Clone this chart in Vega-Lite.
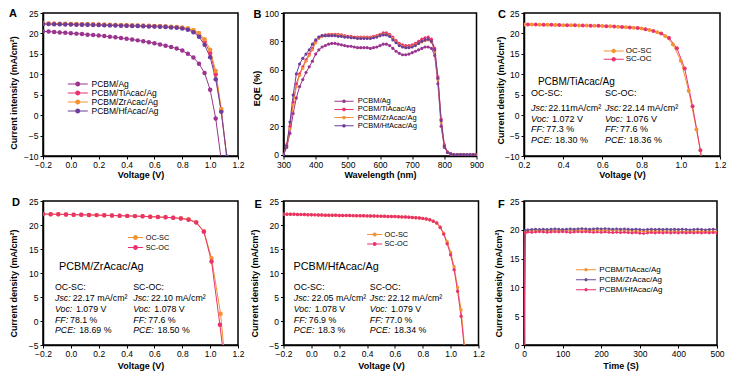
{
"$schema":"https://vega.github.io/schema/vega-lite/v6.json",
"background":"white",
"padding":{"left":8,"top":6,"right":0,"bottom":0},
"config":{
"font":"Liberation Sans",
"view":{"stroke":"black","strokeWidth":1.5},
"axis":{"labelFont":"Liberation Sans","labelFontSize":8.5,"labelColor":"black","labelFlush":false,"labelOverlap":false,"titleFont":"Liberation Sans","titleFontSize":9,"titleFontWeight":"bold","titleColor":"black","tickColor":"black","tickSize":3,"tickWidth":1,"domainColor":"black","domainWidth":1.5,"grid":false},
"axisX":{"labelPadding":1.5,"titlePadding":1},
"axisY":{"labelPadding":2},
"legend":{"labelFont":"Liberation Sans","labelColor":"black","padding":0,"rowPadding":0,"symbolStrokeWidth":0},
"title":{"font":"Liberation Sans","fontWeight":"bold","color":"black","fontSize":11,"anchor":"start","frame":"group","offset":0,"baseline":"middle"}
},
"datasets":{
"pa":[
{"s":"PCBM/Ag","v":-0.2,"j":20.5},{"s":"PCBM/Ag","v":-0.16,"j":20.45},{"s":"PCBM/Ag","v":-0.12,"j":20.35},{"s":"PCBM/Ag","v":-0.08,"j":20.25},{"s":"PCBM/Ag","v":-0.04,"j":20.15},{"s":"PCBM/Ag","v":0,"j":20.05},{"s":"PCBM/Ag","v":0.04,"j":19.95},{"s":"PCBM/Ag","v":0.08,"j":19.85},{"s":"PCBM/Ag","v":0.12,"j":19.7},{"s":"PCBM/Ag","v":0.16,"j":19.6},{"s":"PCBM/Ag","v":0.2,"j":19.5},{"s":"PCBM/Ag","v":0.24,"j":19.35},{"s":"PCBM/Ag","v":0.28,"j":19.2},{"s":"PCBM/Ag","v":0.32,"j":19.05},{"s":"PCBM/Ag","v":0.36,"j":18.9},{"s":"PCBM/Ag","v":0.4,"j":18.7},{"s":"PCBM/Ag","v":0.44,"j":18.5},{"s":"PCBM/Ag","v":0.48,"j":18.3},{"s":"PCBM/Ag","v":0.52,"j":18.1},{"s":"PCBM/Ag","v":0.56,"j":17.85},{"s":"PCBM/Ag","v":0.6,"j":17.6},{"s":"PCBM/Ag","v":0.64,"j":17.3},{"s":"PCBM/Ag","v":0.68,"j":17.0},{"s":"PCBM/Ag","v":0.72,"j":16.7},{"s":"PCBM/Ag","v":0.76,"j":16.3},{"s":"PCBM/Ag","v":0.8,"j":15.8},{"s":"PCBM/Ag","v":0.84,"j":15.0},{"s":"PCBM/Ag","v":0.88,"j":14.1},{"s":"PCBM/Ag","v":0.92,"j":12.6},{"s":"PCBM/Ag","v":0.96,"j":10.3},{"s":"PCBM/Ag","v":1.0,"j":6.2},{"s":"PCBM/Ag","v":1.04,"j":-0.8},{"s":"PCBM/Ag","v":1.08,"j":-11},
{"s":"PCBM/TiAcac/Ag","v":-0.2,"j":22.4},{"s":"PCBM/TiAcac/Ag","v":-0.16,"j":22.38},{"s":"PCBM/TiAcac/Ag","v":-0.12,"j":22.35},{"s":"PCBM/TiAcac/Ag","v":-0.08,"j":22.33},{"s":"PCBM/TiAcac/Ag","v":-0.04,"j":22.3},{"s":"PCBM/TiAcac/Ag","v":0,"j":22.28},{"s":"PCBM/TiAcac/Ag","v":0.04,"j":22.25},{"s":"PCBM/TiAcac/Ag","v":0.08,"j":22.22},{"s":"PCBM/TiAcac/Ag","v":0.12,"j":22.2},{"s":"PCBM/TiAcac/Ag","v":0.16,"j":22.17},{"s":"PCBM/TiAcac/Ag","v":0.2,"j":22.14},{"s":"PCBM/TiAcac/Ag","v":0.24,"j":22.1},{"s":"PCBM/TiAcac/Ag","v":0.28,"j":22.07},{"s":"PCBM/TiAcac/Ag","v":0.32,"j":22.04},{"s":"PCBM/TiAcac/Ag","v":0.36,"j":22.0},{"s":"PCBM/TiAcac/Ag","v":0.4,"j":21.97},{"s":"PCBM/TiAcac/Ag","v":0.44,"j":21.93},{"s":"PCBM/TiAcac/Ag","v":0.48,"j":21.9},{"s":"PCBM/TiAcac/Ag","v":0.52,"j":21.86},{"s":"PCBM/TiAcac/Ag","v":0.56,"j":21.82},{"s":"PCBM/TiAcac/Ag","v":0.6,"j":21.78},{"s":"PCBM/TiAcac/Ag","v":0.64,"j":21.73},{"s":"PCBM/TiAcac/Ag","v":0.68,"j":21.67},{"s":"PCBM/TiAcac/Ag","v":0.72,"j":21.6},{"s":"PCBM/TiAcac/Ag","v":0.76,"j":21.5},{"s":"PCBM/TiAcac/Ag","v":0.8,"j":21.35},{"s":"PCBM/TiAcac/Ag","v":0.84,"j":21.1},{"s":"PCBM/TiAcac/Ag","v":0.88,"j":20.6},{"s":"PCBM/TiAcac/Ag","v":0.92,"j":19.7},{"s":"PCBM/TiAcac/Ag","v":0.96,"j":18.0},{"s":"PCBM/TiAcac/Ag","v":1.0,"j":15.2},{"s":"PCBM/TiAcac/Ag","v":1.04,"j":10.0},{"s":"PCBM/TiAcac/Ag","v":1.08,"j":1.0},{"s":"PCBM/TiAcac/Ag","v":1.12,"j":-10.5},
{"s":"PCBM/ZrAcac/Ag","v":-0.2,"j":22.45},{"s":"PCBM/ZrAcac/Ag","v":-0.16,"j":22.43},{"s":"PCBM/ZrAcac/Ag","v":-0.12,"j":22.4},{"s":"PCBM/ZrAcac/Ag","v":-0.08,"j":22.38},{"s":"PCBM/ZrAcac/Ag","v":-0.04,"j":22.35},{"s":"PCBM/ZrAcac/Ag","v":0,"j":22.33},{"s":"PCBM/ZrAcac/Ag","v":0.04,"j":22.3},{"s":"PCBM/ZrAcac/Ag","v":0.08,"j":22.27},{"s":"PCBM/ZrAcac/Ag","v":0.12,"j":22.25},{"s":"PCBM/ZrAcac/Ag","v":0.16,"j":22.22},{"s":"PCBM/ZrAcac/Ag","v":0.2,"j":22.19},{"s":"PCBM/ZrAcac/Ag","v":0.24,"j":22.15},{"s":"PCBM/ZrAcac/Ag","v":0.28,"j":22.12},{"s":"PCBM/ZrAcac/Ag","v":0.32,"j":22.09},{"s":"PCBM/ZrAcac/Ag","v":0.36,"j":22.05},{"s":"PCBM/ZrAcac/Ag","v":0.4,"j":22.02},{"s":"PCBM/ZrAcac/Ag","v":0.44,"j":21.98},{"s":"PCBM/ZrAcac/Ag","v":0.48,"j":21.95},{"s":"PCBM/ZrAcac/Ag","v":0.52,"j":21.91},{"s":"PCBM/ZrAcac/Ag","v":0.56,"j":21.87},{"s":"PCBM/ZrAcac/Ag","v":0.6,"j":21.83},{"s":"PCBM/ZrAcac/Ag","v":0.64,"j":21.78},{"s":"PCBM/ZrAcac/Ag","v":0.68,"j":21.72},{"s":"PCBM/ZrAcac/Ag","v":0.72,"j":21.65},{"s":"PCBM/ZrAcac/Ag","v":0.76,"j":21.57},{"s":"PCBM/ZrAcac/Ag","v":0.8,"j":21.45},{"s":"PCBM/ZrAcac/Ag","v":0.84,"j":21.25},{"s":"PCBM/ZrAcac/Ag","v":0.88,"j":20.85},{"s":"PCBM/ZrAcac/Ag","v":0.92,"j":20.1},{"s":"PCBM/ZrAcac/Ag","v":0.96,"j":18.6},{"s":"PCBM/ZrAcac/Ag","v":1.0,"j":16.0},{"s":"PCBM/ZrAcac/Ag","v":1.04,"j":10.8},{"s":"PCBM/ZrAcac/Ag","v":1.08,"j":1.5},{"s":"PCBM/ZrAcac/Ag","v":1.12,"j":-10.8},
{"s":"PCBM/HfAcac/Ag","v":-0.2,"j":22.3},{"s":"PCBM/HfAcac/Ag","v":-0.16,"j":22.28},{"s":"PCBM/HfAcac/Ag","v":-0.12,"j":22.25},{"s":"PCBM/HfAcac/Ag","v":-0.08,"j":22.23},{"s":"PCBM/HfAcac/Ag","v":-0.04,"j":22.2},{"s":"PCBM/HfAcac/Ag","v":0,"j":22.18},{"s":"PCBM/HfAcac/Ag","v":0.04,"j":22.15},{"s":"PCBM/HfAcac/Ag","v":0.08,"j":22.12},{"s":"PCBM/HfAcac/Ag","v":0.12,"j":22.1},{"s":"PCBM/HfAcac/Ag","v":0.16,"j":22.07},{"s":"PCBM/HfAcac/Ag","v":0.2,"j":22.04},{"s":"PCBM/HfAcac/Ag","v":0.24,"j":22.0},{"s":"PCBM/HfAcac/Ag","v":0.28,"j":21.97},{"s":"PCBM/HfAcac/Ag","v":0.32,"j":21.94},{"s":"PCBM/HfAcac/Ag","v":0.36,"j":21.9},{"s":"PCBM/HfAcac/Ag","v":0.4,"j":21.87},{"s":"PCBM/HfAcac/Ag","v":0.44,"j":21.83},{"s":"PCBM/HfAcac/Ag","v":0.48,"j":21.8},{"s":"PCBM/HfAcac/Ag","v":0.52,"j":21.76},{"s":"PCBM/HfAcac/Ag","v":0.56,"j":21.72},{"s":"PCBM/HfAcac/Ag","v":0.6,"j":21.67},{"s":"PCBM/HfAcac/Ag","v":0.64,"j":21.62},{"s":"PCBM/HfAcac/Ag","v":0.68,"j":21.55},{"s":"PCBM/HfAcac/Ag","v":0.72,"j":21.47},{"s":"PCBM/HfAcac/Ag","v":0.76,"j":21.37},{"s":"PCBM/HfAcac/Ag","v":0.8,"j":21.2},{"s":"PCBM/HfAcac/Ag","v":0.84,"j":20.9},{"s":"PCBM/HfAcac/Ag","v":0.88,"j":20.3},{"s":"PCBM/HfAcac/Ag","v":0.92,"j":19.2},{"s":"PCBM/HfAcac/Ag","v":0.96,"j":17.2},{"s":"PCBM/HfAcac/Ag","v":1.0,"j":14.2},{"s":"PCBM/HfAcac/Ag","v":1.04,"j":8.8},{"s":"PCBM/HfAcac/Ag","v":1.08,"j":0.8},{"s":"PCBM/HfAcac/Ag","v":1.12,"j":-10.2}
],
"pb":[
{"s":"PCBM/Ag","v":300,"j":0},{"s":"PCBM/Ag","v":310,"j":5},{"s":"PCBM/Ag","v":320,"j":15},{"s":"PCBM/Ag","v":330,"j":29},{"s":"PCBM/Ag","v":340,"j":40},{"s":"PCBM/Ag","v":350,"j":48},{"s":"PCBM/Ag","v":360,"j":53},{"s":"PCBM/Ag","v":370,"j":58},{"s":"PCBM/Ag","v":380,"j":62},{"s":"PCBM/Ag","v":390,"j":66},{"s":"PCBM/Ag","v":400,"j":71},{"s":"PCBM/Ag","v":410,"j":74},{"s":"PCBM/Ag","v":420,"j":76},{"s":"PCBM/Ag","v":430,"j":77},{"s":"PCBM/Ag","v":440,"j":78},{"s":"PCBM/Ag","v":450,"j":78.5},{"s":"PCBM/Ag","v":460,"j":78.5},{"s":"PCBM/Ag","v":470,"j":78},{"s":"PCBM/Ag","v":480,"j":77.5},{"s":"PCBM/Ag","v":490,"j":77},{"s":"PCBM/Ag","v":500,"j":76.5},{"s":"PCBM/Ag","v":510,"j":76.5},{"s":"PCBM/Ag","v":520,"j":76},{"s":"PCBM/Ag","v":530,"j":75.5},{"s":"PCBM/Ag","v":540,"j":75.5},{"s":"PCBM/Ag","v":550,"j":75.5},{"s":"PCBM/Ag","v":560,"j":75.5},{"s":"PCBM/Ag","v":570,"j":75},{"s":"PCBM/Ag","v":580,"j":75.5},{"s":"PCBM/Ag","v":590,"j":76},{"s":"PCBM/Ag","v":600,"j":77},{"s":"PCBM/Ag","v":610,"j":78},{"s":"PCBM/Ag","v":620,"j":78},{"s":"PCBM/Ag","v":630,"j":77},{"s":"PCBM/Ag","v":640,"j":75},{"s":"PCBM/Ag","v":650,"j":73},{"s":"PCBM/Ag","v":660,"j":71.5},{"s":"PCBM/Ag","v":670,"j":70.5},{"s":"PCBM/Ag","v":680,"j":70.5},{"s":"PCBM/Ag","v":690,"j":71},{"s":"PCBM/Ag","v":700,"j":72},{"s":"PCBM/Ag","v":710,"j":73},{"s":"PCBM/Ag","v":720,"j":74},{"s":"PCBM/Ag","v":730,"j":75},{"s":"PCBM/Ag","v":740,"j":76},{"s":"PCBM/Ag","v":750,"j":76},{"s":"PCBM/Ag","v":760,"j":75},{"s":"PCBM/Ag","v":770,"j":70},{"s":"PCBM/Ag","v":780,"j":50},{"s":"PCBM/Ag","v":790,"j":20},{"s":"PCBM/Ag","v":800,"j":5},{"s":"PCBM/Ag","v":810,"j":1.5},{"s":"PCBM/Ag","v":820,"j":0.5},{"s":"PCBM/Ag","v":830,"j":0},{"s":"PCBM/Ag","v":840,"j":0},{"s":"PCBM/Ag","v":850,"j":0},{"s":"PCBM/Ag","v":860,"j":0},{"s":"PCBM/Ag","v":870,"j":0},{"s":"PCBM/Ag","v":880,"j":0},{"s":"PCBM/Ag","v":890,"j":0},{"s":"PCBM/Ag","v":900,"j":0},
{"s":"PCBM/TiAcac/Ag","v":300,"j":0},{"s":"PCBM/TiAcac/Ag","v":310,"j":7},{"s":"PCBM/TiAcac/Ag","v":320,"j":20},{"s":"PCBM/TiAcac/Ag","v":330,"j":37},{"s":"PCBM/TiAcac/Ag","v":340,"j":50},{"s":"PCBM/TiAcac/Ag","v":350,"j":57},{"s":"PCBM/TiAcac/Ag","v":360,"j":62},{"s":"PCBM/TiAcac/Ag","v":370,"j":67},{"s":"PCBM/TiAcac/Ag","v":380,"j":71},{"s":"PCBM/TiAcac/Ag","v":390,"j":75},{"s":"PCBM/TiAcac/Ag","v":400,"j":80},{"s":"PCBM/TiAcac/Ag","v":410,"j":83},{"s":"PCBM/TiAcac/Ag","v":420,"j":84},{"s":"PCBM/TiAcac/Ag","v":430,"j":84.5},{"s":"PCBM/TiAcac/Ag","v":440,"j":85},{"s":"PCBM/TiAcac/Ag","v":450,"j":85},{"s":"PCBM/TiAcac/Ag","v":460,"j":85},{"s":"PCBM/TiAcac/Ag","v":470,"j":85},{"s":"PCBM/TiAcac/Ag","v":480,"j":84.5},{"s":"PCBM/TiAcac/Ag","v":490,"j":84},{"s":"PCBM/TiAcac/Ag","v":500,"j":83.5},{"s":"PCBM/TiAcac/Ag","v":510,"j":83.5},{"s":"PCBM/TiAcac/Ag","v":520,"j":83},{"s":"PCBM/TiAcac/Ag","v":530,"j":83},{"s":"PCBM/TiAcac/Ag","v":540,"j":83},{"s":"PCBM/TiAcac/Ag","v":550,"j":83},{"s":"PCBM/TiAcac/Ag","v":560,"j":83},{"s":"PCBM/TiAcac/Ag","v":570,"j":83},{"s":"PCBM/TiAcac/Ag","v":580,"j":83.5},{"s":"PCBM/TiAcac/Ag","v":590,"j":84},{"s":"PCBM/TiAcac/Ag","v":600,"j":85},{"s":"PCBM/TiAcac/Ag","v":610,"j":86},{"s":"PCBM/TiAcac/Ag","v":620,"j":86},{"s":"PCBM/TiAcac/Ag","v":630,"j":85},{"s":"PCBM/TiAcac/Ag","v":640,"j":83},{"s":"PCBM/TiAcac/Ag","v":650,"j":80.5},{"s":"PCBM/TiAcac/Ag","v":660,"j":78.5},{"s":"PCBM/TiAcac/Ag","v":670,"j":77.5},{"s":"PCBM/TiAcac/Ag","v":680,"j":77},{"s":"PCBM/TiAcac/Ag","v":690,"j":77},{"s":"PCBM/TiAcac/Ag","v":700,"j":77.5},{"s":"PCBM/TiAcac/Ag","v":710,"j":78.5},{"s":"PCBM/TiAcac/Ag","v":720,"j":80},{"s":"PCBM/TiAcac/Ag","v":730,"j":81.5},{"s":"PCBM/TiAcac/Ag","v":740,"j":82.5},{"s":"PCBM/TiAcac/Ag","v":750,"j":83},{"s":"PCBM/TiAcac/Ag","v":760,"j":81.5},{"s":"PCBM/TiAcac/Ag","v":770,"j":75},{"s":"PCBM/TiAcac/Ag","v":780,"j":55},{"s":"PCBM/TiAcac/Ag","v":790,"j":25},{"s":"PCBM/TiAcac/Ag","v":800,"j":7},{"s":"PCBM/TiAcac/Ag","v":810,"j":2},{"s":"PCBM/TiAcac/Ag","v":820,"j":0.5},{"s":"PCBM/TiAcac/Ag","v":830,"j":0},{"s":"PCBM/TiAcac/Ag","v":840,"j":0},{"s":"PCBM/TiAcac/Ag","v":850,"j":0},{"s":"PCBM/TiAcac/Ag","v":860,"j":0},{"s":"PCBM/TiAcac/Ag","v":870,"j":0},{"s":"PCBM/TiAcac/Ag","v":880,"j":0},{"s":"PCBM/TiAcac/Ag","v":890,"j":0},{"s":"PCBM/TiAcac/Ag","v":900,"j":0},
{"s":"PCBM/ZrAcac/Ag","v":300,"j":0},{"s":"PCBM/ZrAcac/Ag","v":310,"j":6},{"s":"PCBM/ZrAcac/Ag","v":320,"j":18},{"s":"PCBM/ZrAcac/Ag","v":330,"j":35},{"s":"PCBM/ZrAcac/Ag","v":340,"j":48},{"s":"PCBM/ZrAcac/Ag","v":350,"j":56},{"s":"PCBM/ZrAcac/Ag","v":360,"j":61},{"s":"PCBM/ZrAcac/Ag","v":370,"j":66},{"s":"PCBM/ZrAcac/Ag","v":380,"j":70},{"s":"PCBM/ZrAcac/Ag","v":390,"j":74},{"s":"PCBM/ZrAcac/Ag","v":400,"j":79},{"s":"PCBM/ZrAcac/Ag","v":410,"j":82},{"s":"PCBM/ZrAcac/Ag","v":420,"j":83.5},{"s":"PCBM/ZrAcac/Ag","v":430,"j":84},{"s":"PCBM/ZrAcac/Ag","v":440,"j":84.5},{"s":"PCBM/ZrAcac/Ag","v":450,"j":84.5},{"s":"PCBM/ZrAcac/Ag","v":460,"j":84.5},{"s":"PCBM/ZrAcac/Ag","v":470,"j":84.5},{"s":"PCBM/ZrAcac/Ag","v":480,"j":84},{"s":"PCBM/ZrAcac/Ag","v":490,"j":83.5},{"s":"PCBM/ZrAcac/Ag","v":500,"j":83},{"s":"PCBM/ZrAcac/Ag","v":510,"j":83},{"s":"PCBM/ZrAcac/Ag","v":520,"j":82.5},{"s":"PCBM/ZrAcac/Ag","v":530,"j":82.5},{"s":"PCBM/ZrAcac/Ag","v":540,"j":82.5},{"s":"PCBM/ZrAcac/Ag","v":550,"j":82.5},{"s":"PCBM/ZrAcac/Ag","v":560,"j":82.5},{"s":"PCBM/ZrAcac/Ag","v":570,"j":82.5},{"s":"PCBM/ZrAcac/Ag","v":580,"j":83},{"s":"PCBM/ZrAcac/Ag","v":590,"j":83.5},{"s":"PCBM/ZrAcac/Ag","v":600,"j":84.5},{"s":"PCBM/ZrAcac/Ag","v":610,"j":85},{"s":"PCBM/ZrAcac/Ag","v":620,"j":85},{"s":"PCBM/ZrAcac/Ag","v":630,"j":84},{"s":"PCBM/ZrAcac/Ag","v":640,"j":82},{"s":"PCBM/ZrAcac/Ag","v":650,"j":79.5},{"s":"PCBM/ZrAcac/Ag","v":660,"j":77.5},{"s":"PCBM/ZrAcac/Ag","v":670,"j":76.5},{"s":"PCBM/ZrAcac/Ag","v":680,"j":76},{"s":"PCBM/ZrAcac/Ag","v":690,"j":76},{"s":"PCBM/ZrAcac/Ag","v":700,"j":76.5},{"s":"PCBM/ZrAcac/Ag","v":710,"j":77.5},{"s":"PCBM/ZrAcac/Ag","v":720,"j":78.5},{"s":"PCBM/ZrAcac/Ag","v":730,"j":79.5},{"s":"PCBM/ZrAcac/Ag","v":740,"j":80.5},{"s":"PCBM/ZrAcac/Ag","v":750,"j":81},{"s":"PCBM/ZrAcac/Ag","v":760,"j":79.5},{"s":"PCBM/ZrAcac/Ag","v":770,"j":73},{"s":"PCBM/ZrAcac/Ag","v":780,"j":53},{"s":"PCBM/ZrAcac/Ag","v":790,"j":23},{"s":"PCBM/ZrAcac/Ag","v":800,"j":6},{"s":"PCBM/ZrAcac/Ag","v":810,"j":1.5},{"s":"PCBM/ZrAcac/Ag","v":820,"j":0.5},{"s":"PCBM/ZrAcac/Ag","v":830,"j":0},{"s":"PCBM/ZrAcac/Ag","v":840,"j":0},{"s":"PCBM/ZrAcac/Ag","v":850,"j":0},{"s":"PCBM/ZrAcac/Ag","v":860,"j":0},{"s":"PCBM/ZrAcac/Ag","v":870,"j":0},{"s":"PCBM/ZrAcac/Ag","v":880,"j":0},{"s":"PCBM/ZrAcac/Ag","v":890,"j":0},{"s":"PCBM/ZrAcac/Ag","v":900,"j":0},
{"s":"PCBM/HfAcac/Ag","v":300,"j":0},{"s":"PCBM/HfAcac/Ag","v":310,"j":6},{"s":"PCBM/HfAcac/Ag","v":320,"j":23},{"s":"PCBM/HfAcac/Ag","v":330,"j":42},{"s":"PCBM/HfAcac/Ag","v":340,"j":57},{"s":"PCBM/HfAcac/Ag","v":350,"j":64},{"s":"PCBM/HfAcac/Ag","v":360,"j":68},{"s":"PCBM/HfAcac/Ag","v":370,"j":71},{"s":"PCBM/HfAcac/Ag","v":380,"j":74},{"s":"PCBM/HfAcac/Ag","v":390,"j":78},{"s":"PCBM/HfAcac/Ag","v":400,"j":81},{"s":"PCBM/HfAcac/Ag","v":410,"j":83},{"s":"PCBM/HfAcac/Ag","v":420,"j":84},{"s":"PCBM/HfAcac/Ag","v":430,"j":84},{"s":"PCBM/HfAcac/Ag","v":440,"j":84},{"s":"PCBM/HfAcac/Ag","v":450,"j":84},{"s":"PCBM/HfAcac/Ag","v":460,"j":84},{"s":"PCBM/HfAcac/Ag","v":470,"j":83.5},{"s":"PCBM/HfAcac/Ag","v":480,"j":83.5},{"s":"PCBM/HfAcac/Ag","v":490,"j":83},{"s":"PCBM/HfAcac/Ag","v":500,"j":83},{"s":"PCBM/HfAcac/Ag","v":510,"j":82.5},{"s":"PCBM/HfAcac/Ag","v":520,"j":82.5},{"s":"PCBM/HfAcac/Ag","v":530,"j":82},{"s":"PCBM/HfAcac/Ag","v":540,"j":82},{"s":"PCBM/HfAcac/Ag","v":550,"j":82},{"s":"PCBM/HfAcac/Ag","v":560,"j":82},{"s":"PCBM/HfAcac/Ag","v":570,"j":82},{"s":"PCBM/HfAcac/Ag","v":580,"j":82.5},{"s":"PCBM/HfAcac/Ag","v":590,"j":83},{"s":"PCBM/HfAcac/Ag","v":600,"j":84},{"s":"PCBM/HfAcac/Ag","v":610,"j":84.5},{"s":"PCBM/HfAcac/Ag","v":620,"j":84.5},{"s":"PCBM/HfAcac/Ag","v":630,"j":83.5},{"s":"PCBM/HfAcac/Ag","v":640,"j":81},{"s":"PCBM/HfAcac/Ag","v":650,"j":79},{"s":"PCBM/HfAcac/Ag","v":660,"j":77},{"s":"PCBM/HfAcac/Ag","v":670,"j":76},{"s":"PCBM/HfAcac/Ag","v":680,"j":75.5},{"s":"PCBM/HfAcac/Ag","v":690,"j":75.5},{"s":"PCBM/HfAcac/Ag","v":700,"j":76},{"s":"PCBM/HfAcac/Ag","v":710,"j":77},{"s":"PCBM/HfAcac/Ag","v":720,"j":78.5},{"s":"PCBM/HfAcac/Ag","v":730,"j":80},{"s":"PCBM/HfAcac/Ag","v":740,"j":81},{"s":"PCBM/HfAcac/Ag","v":750,"j":81.5},{"s":"PCBM/HfAcac/Ag","v":760,"j":80},{"s":"PCBM/HfAcac/Ag","v":770,"j":74},{"s":"PCBM/HfAcac/Ag","v":780,"j":54},{"s":"PCBM/HfAcac/Ag","v":790,"j":24},{"s":"PCBM/HfAcac/Ag","v":800,"j":6},{"s":"PCBM/HfAcac/Ag","v":810,"j":1.5},{"s":"PCBM/HfAcac/Ag","v":820,"j":0.5},{"s":"PCBM/HfAcac/Ag","v":830,"j":0},{"s":"PCBM/HfAcac/Ag","v":840,"j":0},{"s":"PCBM/HfAcac/Ag","v":850,"j":0},{"s":"PCBM/HfAcac/Ag","v":860,"j":0},{"s":"PCBM/HfAcac/Ag","v":870,"j":0},{"s":"PCBM/HfAcac/Ag","v":880,"j":0},{"s":"PCBM/HfAcac/Ag","v":890,"j":0},{"s":"PCBM/HfAcac/Ag","v":900,"j":0}
],
"pc":[
{"s":"OC-SC","v":0.2,"j":22.2},{"s":"OC-SC","v":0.24,"j":22.17},{"s":"OC-SC","v":0.28,"j":22.14},{"s":"OC-SC","v":0.32,"j":22.1},{"s":"OC-SC","v":0.36,"j":22.07},{"s":"OC-SC","v":0.4,"j":22.03},{"s":"OC-SC","v":0.44,"j":22.0},{"s":"OC-SC","v":0.48,"j":21.96},{"s":"OC-SC","v":0.52,"j":21.92},{"s":"OC-SC","v":0.56,"j":21.87},{"s":"OC-SC","v":0.6,"j":21.8},{"s":"OC-SC","v":0.64,"j":21.73},{"s":"OC-SC","v":0.68,"j":21.64},{"s":"OC-SC","v":0.72,"j":21.53},{"s":"OC-SC","v":0.76,"j":21.4},{"s":"OC-SC","v":0.8,"j":21.2},{"s":"OC-SC","v":0.84,"j":20.85},{"s":"OC-SC","v":0.88,"j":20.3},{"s":"OC-SC","v":0.92,"j":19.4},{"s":"OC-SC","v":0.96,"j":17.3},{"s":"OC-SC","v":1.0,"j":13.3},{"s":"OC-SC","v":1.04,"j":6.0},{"s":"OC-SC","v":1.08,"j":-3.5},{"s":"OC-SC","v":1.11,"j":-11.5},
{"s":"SC-OC","v":0.22,"j":22.2},{"s":"SC-OC","v":0.26,"j":22.17},{"s":"SC-OC","v":0.3,"j":22.13},{"s":"SC-OC","v":0.34,"j":22.1},{"s":"SC-OC","v":0.38,"j":22.06},{"s":"SC-OC","v":0.42,"j":22.02},{"s":"SC-OC","v":0.46,"j":21.98},{"s":"SC-OC","v":0.5,"j":21.94},{"s":"SC-OC","v":0.54,"j":21.9},{"s":"SC-OC","v":0.58,"j":21.85},{"s":"SC-OC","v":0.62,"j":21.78},{"s":"SC-OC","v":0.66,"j":21.7},{"s":"SC-OC","v":0.7,"j":21.6},{"s":"SC-OC","v":0.74,"j":21.48},{"s":"SC-OC","v":0.78,"j":21.32},{"s":"SC-OC","v":0.82,"j":21.05},{"s":"SC-OC","v":0.86,"j":20.62},{"s":"SC-OC","v":0.9,"j":20.0},{"s":"SC-OC","v":0.94,"j":18.9},{"s":"SC-OC","v":0.98,"j":16.4},{"s":"SC-OC","v":1.02,"j":11.4},{"s":"SC-OC","v":1.06,"j":2.2},{"s":"SC-OC","v":1.1,"j":-8.6},{"s":"SC-OC","v":1.11,"j":-11.5}
],
"pd":[
{"s":"OC-SC","v":-0.2,"j":22.3},{"s":"OC-SC","v":-0.145,"j":22.25},{"s":"OC-SC","v":-0.09,"j":22.22},{"s":"OC-SC","v":-0.035,"j":22.2},{"s":"OC-SC","v":0.02,"j":22.15},{"s":"OC-SC","v":0.075,"j":22.12},{"s":"OC-SC","v":0.13,"j":22.1},{"s":"OC-SC","v":0.185,"j":22.06},{"s":"OC-SC","v":0.24,"j":22.02},{"s":"OC-SC","v":0.295,"j":21.98},{"s":"OC-SC","v":0.35,"j":21.94},{"s":"OC-SC","v":0.405,"j":21.9},{"s":"OC-SC","v":0.46,"j":21.85},{"s":"OC-SC","v":0.515,"j":21.8},{"s":"OC-SC","v":0.57,"j":21.74},{"s":"OC-SC","v":0.625,"j":21.67},{"s":"OC-SC","v":0.68,"j":21.6},{"s":"OC-SC","v":0.735,"j":21.5},{"s":"OC-SC","v":0.79,"j":21.4},{"s":"OC-SC","v":0.845,"j":21.2},{"s":"OC-SC","v":0.9,"j":20.6},{"s":"OC-SC","v":0.955,"j":18.7},{"s":"OC-SC","v":1.01,"j":13.1},{"s":"OC-SC","v":1.075,"j":1.5},{"s":"OC-SC","v":1.1,"j":-6.2},
{"s":"SC-OC","v":-0.2,"j":22.3},{"s":"SC-OC","v":-0.145,"j":22.25},{"s":"SC-OC","v":-0.09,"j":22.22},{"s":"SC-OC","v":-0.035,"j":22.2},{"s":"SC-OC","v":0.02,"j":22.15},{"s":"SC-OC","v":0.075,"j":22.12},{"s":"SC-OC","v":0.13,"j":22.1},{"s":"SC-OC","v":0.185,"j":22.06},{"s":"SC-OC","v":0.24,"j":22.02},{"s":"SC-OC","v":0.295,"j":21.98},{"s":"SC-OC","v":0.35,"j":21.94},{"s":"SC-OC","v":0.405,"j":21.9},{"s":"SC-OC","v":0.46,"j":21.85},{"s":"SC-OC","v":0.515,"j":21.8},{"s":"SC-OC","v":0.57,"j":21.74},{"s":"SC-OC","v":0.625,"j":21.67},{"s":"SC-OC","v":0.68,"j":21.6},{"s":"SC-OC","v":0.735,"j":21.5},{"s":"SC-OC","v":0.79,"j":21.37},{"s":"SC-OC","v":0.845,"j":21.1},{"s":"SC-OC","v":0.9,"j":20.5},{"s":"SC-OC","v":0.955,"j":18.6},{"s":"SC-OC","v":1.01,"j":12.4},{"s":"SC-OC","v":1.07,"j":-0.8},{"s":"SC-OC","v":1.092,"j":-6.2}
],
"pe":[
{"s":"OC-SC","v":-0.2,"j":22.25},{"s":"OC-SC","v":-0.175,"j":22.24},{"s":"OC-SC","v":-0.15,"j":22.23},{"s":"OC-SC","v":-0.125,"j":22.22},{"s":"OC-SC","v":-0.1,"j":22.2},{"s":"OC-SC","v":-0.075,"j":22.19},{"s":"OC-SC","v":-0.05,"j":22.17},{"s":"OC-SC","v":-0.025,"j":22.15},{"s":"OC-SC","v":0,"j":22.13},{"s":"OC-SC","v":0.025,"j":22.11},{"s":"OC-SC","v":0.05,"j":22.09},{"s":"OC-SC","v":0.075,"j":22.07},{"s":"OC-SC","v":0.1,"j":22.05},{"s":"OC-SC","v":0.125,"j":22.04},{"s":"OC-SC","v":0.15,"j":22.02},{"s":"OC-SC","v":0.175,"j":22.01},{"s":"OC-SC","v":0.2,"j":22.0},{"s":"OC-SC","v":0.225,"j":21.99},{"s":"OC-SC","v":0.25,"j":21.98},{"s":"OC-SC","v":0.275,"j":21.96},{"s":"OC-SC","v":0.3,"j":21.95},{"s":"OC-SC","v":0.325,"j":21.94},{"s":"OC-SC","v":0.35,"j":21.93},{"s":"OC-SC","v":0.375,"j":21.91},{"s":"OC-SC","v":0.4,"j":21.9},{"s":"OC-SC","v":0.425,"j":21.88},{"s":"OC-SC","v":0.45,"j":21.86},{"s":"OC-SC","v":0.475,"j":21.85},{"s":"OC-SC","v":0.5,"j":21.83},{"s":"OC-SC","v":0.525,"j":21.81},{"s":"OC-SC","v":0.55,"j":21.79},{"s":"OC-SC","v":0.575,"j":21.77},{"s":"OC-SC","v":0.6,"j":21.75},{"s":"OC-SC","v":0.625,"j":21.72},{"s":"OC-SC","v":0.65,"j":21.69},{"s":"OC-SC","v":0.675,"j":21.66},{"s":"OC-SC","v":0.7,"j":21.62},{"s":"OC-SC","v":0.725,"j":21.58},{"s":"OC-SC","v":0.75,"j":21.53},{"s":"OC-SC","v":0.775,"j":21.46},{"s":"OC-SC","v":0.8,"j":21.38},{"s":"OC-SC","v":0.825,"j":21.25},{"s":"OC-SC","v":0.85,"j":21.08},{"s":"OC-SC","v":0.875,"j":20.8},{"s":"OC-SC","v":0.9,"j":20.4},{"s":"OC-SC","v":0.925,"j":19.6},{"s":"OC-SC","v":0.95,"j":18.3},{"s":"OC-SC","v":0.975,"j":16.5},{"s":"OC-SC","v":1.0,"j":14.3},{"s":"OC-SC","v":1.025,"j":11.3},{"s":"OC-SC","v":1.05,"j":7.0},{"s":"OC-SC","v":1.075,"j":2.3},{"s":"OC-SC","v":1.1,"j":-5.2},
{"s":"SC-OC","v":-0.2,"j":22.25},{"s":"SC-OC","v":-0.175,"j":22.24},{"s":"SC-OC","v":-0.15,"j":22.23},{"s":"SC-OC","v":-0.125,"j":22.22},{"s":"SC-OC","v":-0.1,"j":22.2},{"s":"SC-OC","v":-0.075,"j":22.19},{"s":"SC-OC","v":-0.05,"j":22.17},{"s":"SC-OC","v":-0.025,"j":22.15},{"s":"SC-OC","v":0,"j":22.13},{"s":"SC-OC","v":0.025,"j":22.11},{"s":"SC-OC","v":0.05,"j":22.09},{"s":"SC-OC","v":0.075,"j":22.07},{"s":"SC-OC","v":0.1,"j":22.05},{"s":"SC-OC","v":0.125,"j":22.04},{"s":"SC-OC","v":0.15,"j":22.02},{"s":"SC-OC","v":0.175,"j":22.01},{"s":"SC-OC","v":0.2,"j":22.0},{"s":"SC-OC","v":0.225,"j":21.99},{"s":"SC-OC","v":0.25,"j":21.98},{"s":"SC-OC","v":0.275,"j":21.96},{"s":"SC-OC","v":0.3,"j":21.95},{"s":"SC-OC","v":0.325,"j":21.94},{"s":"SC-OC","v":0.35,"j":21.93},{"s":"SC-OC","v":0.375,"j":21.91},{"s":"SC-OC","v":0.4,"j":21.9},{"s":"SC-OC","v":0.425,"j":21.88},{"s":"SC-OC","v":0.45,"j":21.86},{"s":"SC-OC","v":0.475,"j":21.85},{"s":"SC-OC","v":0.5,"j":21.83},{"s":"SC-OC","v":0.525,"j":21.81},{"s":"SC-OC","v":0.55,"j":21.79},{"s":"SC-OC","v":0.575,"j":21.77},{"s":"SC-OC","v":0.6,"j":21.75},{"s":"SC-OC","v":0.625,"j":21.72},{"s":"SC-OC","v":0.65,"j":21.69},{"s":"SC-OC","v":0.675,"j":21.66},{"s":"SC-OC","v":0.7,"j":21.62},{"s":"SC-OC","v":0.725,"j":21.58},{"s":"SC-OC","v":0.75,"j":21.53},{"s":"SC-OC","v":0.775,"j":21.46},{"s":"SC-OC","v":0.8,"j":21.38},{"s":"SC-OC","v":0.825,"j":21.25},{"s":"SC-OC","v":0.85,"j":21.08},{"s":"SC-OC","v":0.875,"j":20.8},{"s":"SC-OC","v":0.9,"j":20.4},{"s":"SC-OC","v":0.925,"j":19.5},{"s":"SC-OC","v":0.95,"j":18.1},{"s":"SC-OC","v":0.975,"j":16.1},{"s":"SC-OC","v":1.0,"j":13.8},{"s":"SC-OC","v":1.025,"j":10.7},{"s":"SC-OC","v":1.05,"j":6.2},{"s":"SC-OC","v":1.075,"j":1.0},{"s":"SC-OC","v":1.1,"j":-6.2}
],
"pf":[
{"s":"PCBM/TiAcac/Ag","v":0,"j":0},{"s":"PCBM/TiAcac/Ag","v":3,"j":19.6},{"s":"PCBM/TiAcac/Ag","v":10,"j":19.8},{"s":"PCBM/TiAcac/Ag","v":20,"j":19.85},{"s":"PCBM/TiAcac/Ag","v":30,"j":19.8},{"s":"PCBM/TiAcac/Ag","v":40,"j":19.9},{"s":"PCBM/TiAcac/Ag","v":50,"j":19.85},{"s":"PCBM/TiAcac/Ag","v":60,"j":19.8},{"s":"PCBM/TiAcac/Ag","v":70,"j":19.9},{"s":"PCBM/TiAcac/Ag","v":80,"j":19.85},{"s":"PCBM/TiAcac/Ag","v":90,"j":19.9},{"s":"PCBM/TiAcac/Ag","v":100,"j":19.85},{"s":"PCBM/TiAcac/Ag","v":110,"j":19.8},{"s":"PCBM/TiAcac/Ag","v":120,"j":19.9},{"s":"PCBM/TiAcac/Ag","v":130,"j":19.85},{"s":"PCBM/TiAcac/Ag","v":140,"j":19.9},{"s":"PCBM/TiAcac/Ag","v":150,"j":19.95},{"s":"PCBM/TiAcac/Ag","v":160,"j":19.9},{"s":"PCBM/TiAcac/Ag","v":170,"j":19.85},{"s":"PCBM/TiAcac/Ag","v":180,"j":19.9},{"s":"PCBM/TiAcac/Ag","v":190,"j":19.95},{"s":"PCBM/TiAcac/Ag","v":200,"j":19.9},{"s":"PCBM/TiAcac/Ag","v":210,"j":19.85},{"s":"PCBM/TiAcac/Ag","v":220,"j":19.9},{"s":"PCBM/TiAcac/Ag","v":230,"j":19.85},{"s":"PCBM/TiAcac/Ag","v":240,"j":19.8},{"s":"PCBM/TiAcac/Ag","v":250,"j":19.85},{"s":"PCBM/TiAcac/Ag","v":260,"j":19.8},{"s":"PCBM/TiAcac/Ag","v":270,"j":19.85},{"s":"PCBM/TiAcac/Ag","v":280,"j":19.8},{"s":"PCBM/TiAcac/Ag","v":290,"j":19.75},{"s":"PCBM/TiAcac/Ag","v":300,"j":19.8},{"s":"PCBM/TiAcac/Ag","v":310,"j":19.7},{"s":"PCBM/TiAcac/Ag","v":320,"j":19.75},{"s":"PCBM/TiAcac/Ag","v":330,"j":19.8},{"s":"PCBM/TiAcac/Ag","v":340,"j":19.75},{"s":"PCBM/TiAcac/Ag","v":350,"j":19.8},{"s":"PCBM/TiAcac/Ag","v":360,"j":19.75},{"s":"PCBM/TiAcac/Ag","v":370,"j":19.8},{"s":"PCBM/TiAcac/Ag","v":380,"j":19.75},{"s":"PCBM/TiAcac/Ag","v":390,"j":19.8},{"s":"PCBM/TiAcac/Ag","v":400,"j":19.75},{"s":"PCBM/TiAcac/Ag","v":410,"j":19.7},{"s":"PCBM/TiAcac/Ag","v":420,"j":19.75},{"s":"PCBM/TiAcac/Ag","v":430,"j":19.7},{"s":"PCBM/TiAcac/Ag","v":440,"j":19.75},{"s":"PCBM/TiAcac/Ag","v":450,"j":19.7},{"s":"PCBM/TiAcac/Ag","v":460,"j":19.75},{"s":"PCBM/TiAcac/Ag","v":470,"j":19.7},{"s":"PCBM/TiAcac/Ag","v":480,"j":19.75},{"s":"PCBM/TiAcac/Ag","v":490,"j":19.7},{"s":"PCBM/TiAcac/Ag","v":500,"j":19.75},
{"s":"PCBM/ZrAcac/Ag","v":0,"j":0},{"s":"PCBM/ZrAcac/Ag","v":3,"j":19.9},{"s":"PCBM/ZrAcac/Ag","v":10,"j":20.0},{"s":"PCBM/ZrAcac/Ag","v":20,"j":20.05},{"s":"PCBM/ZrAcac/Ag","v":30,"j":20.1},{"s":"PCBM/ZrAcac/Ag","v":40,"j":20.05},{"s":"PCBM/ZrAcac/Ag","v":50,"j":20.1},{"s":"PCBM/ZrAcac/Ag","v":60,"j":20.05},{"s":"PCBM/ZrAcac/Ag","v":70,"j":20.1},{"s":"PCBM/ZrAcac/Ag","v":80,"j":20.15},{"s":"PCBM/ZrAcac/Ag","v":90,"j":20.1},{"s":"PCBM/ZrAcac/Ag","v":100,"j":20.05},{"s":"PCBM/ZrAcac/Ag","v":110,"j":20.1},{"s":"PCBM/ZrAcac/Ag","v":120,"j":20.15},{"s":"PCBM/ZrAcac/Ag","v":130,"j":20.1},{"s":"PCBM/ZrAcac/Ag","v":140,"j":20.15},{"s":"PCBM/ZrAcac/Ag","v":150,"j":20.2},{"s":"PCBM/ZrAcac/Ag","v":160,"j":20.15},{"s":"PCBM/ZrAcac/Ag","v":170,"j":20.1},{"s":"PCBM/ZrAcac/Ag","v":180,"j":20.15},{"s":"PCBM/ZrAcac/Ag","v":190,"j":20.2},{"s":"PCBM/ZrAcac/Ag","v":200,"j":20.15},{"s":"PCBM/ZrAcac/Ag","v":210,"j":20.2},{"s":"PCBM/ZrAcac/Ag","v":220,"j":20.15},{"s":"PCBM/ZrAcac/Ag","v":230,"j":20.1},{"s":"PCBM/ZrAcac/Ag","v":240,"j":20.15},{"s":"PCBM/ZrAcac/Ag","v":250,"j":20.1},{"s":"PCBM/ZrAcac/Ag","v":260,"j":20.15},{"s":"PCBM/ZrAcac/Ag","v":270,"j":20.1},{"s":"PCBM/ZrAcac/Ag","v":280,"j":20.05},{"s":"PCBM/ZrAcac/Ag","v":290,"j":20.1},{"s":"PCBM/ZrAcac/Ag","v":300,"j":20.05},{"s":"PCBM/ZrAcac/Ag","v":310,"j":20.0},{"s":"PCBM/ZrAcac/Ag","v":320,"j":20.05},{"s":"PCBM/ZrAcac/Ag","v":330,"j":20.1},{"s":"PCBM/ZrAcac/Ag","v":340,"j":20.05},{"s":"PCBM/ZrAcac/Ag","v":350,"j":20.1},{"s":"PCBM/ZrAcac/Ag","v":360,"j":20.05},{"s":"PCBM/ZrAcac/Ag","v":370,"j":20.1},{"s":"PCBM/ZrAcac/Ag","v":380,"j":20.05},{"s":"PCBM/ZrAcac/Ag","v":390,"j":20.1},{"s":"PCBM/ZrAcac/Ag","v":400,"j":20.05},{"s":"PCBM/ZrAcac/Ag","v":410,"j":20.1},{"s":"PCBM/ZrAcac/Ag","v":420,"j":20.05},{"s":"PCBM/ZrAcac/Ag","v":430,"j":20.0},{"s":"PCBM/ZrAcac/Ag","v":440,"j":20.05},{"s":"PCBM/ZrAcac/Ag","v":450,"j":20.1},{"s":"PCBM/ZrAcac/Ag","v":460,"j":20.05},{"s":"PCBM/ZrAcac/Ag","v":470,"j":20.0},{"s":"PCBM/ZrAcac/Ag","v":480,"j":20.05},{"s":"PCBM/ZrAcac/Ag","v":490,"j":20.1},{"s":"PCBM/ZrAcac/Ag","v":500,"j":20.05},
{"s":"PCBM/HfAcac/Ag","v":0,"j":0},{"s":"PCBM/HfAcac/Ag","v":3,"j":19.4},{"s":"PCBM/HfAcac/Ag","v":10,"j":19.6},{"s":"PCBM/HfAcac/Ag","v":20,"j":19.55},{"s":"PCBM/HfAcac/Ag","v":30,"j":19.6},{"s":"PCBM/HfAcac/Ag","v":40,"j":19.65},{"s":"PCBM/HfAcac/Ag","v":50,"j":19.6},{"s":"PCBM/HfAcac/Ag","v":60,"j":19.55},{"s":"PCBM/HfAcac/Ag","v":70,"j":19.6},{"s":"PCBM/HfAcac/Ag","v":80,"j":19.65},{"s":"PCBM/HfAcac/Ag","v":90,"j":19.6},{"s":"PCBM/HfAcac/Ag","v":100,"j":19.65},{"s":"PCBM/HfAcac/Ag","v":110,"j":19.6},{"s":"PCBM/HfAcac/Ag","v":120,"j":19.55},{"s":"PCBM/HfAcac/Ag","v":130,"j":19.6},{"s":"PCBM/HfAcac/Ag","v":140,"j":19.65},{"s":"PCBM/HfAcac/Ag","v":150,"j":19.6},{"s":"PCBM/HfAcac/Ag","v":160,"j":19.65},{"s":"PCBM/HfAcac/Ag","v":170,"j":19.6},{"s":"PCBM/HfAcac/Ag","v":180,"j":19.55},{"s":"PCBM/HfAcac/Ag","v":190,"j":19.6},{"s":"PCBM/HfAcac/Ag","v":200,"j":19.55},{"s":"PCBM/HfAcac/Ag","v":210,"j":19.6},{"s":"PCBM/HfAcac/Ag","v":220,"j":19.55},{"s":"PCBM/HfAcac/Ag","v":230,"j":19.5},{"s":"PCBM/HfAcac/Ag","v":240,"j":19.55},{"s":"PCBM/HfAcac/Ag","v":250,"j":19.5},{"s":"PCBM/HfAcac/Ag","v":260,"j":19.55},{"s":"PCBM/HfAcac/Ag","v":270,"j":19.5},{"s":"PCBM/HfAcac/Ag","v":280,"j":19.45},{"s":"PCBM/HfAcac/Ag","v":290,"j":19.5},{"s":"PCBM/HfAcac/Ag","v":300,"j":19.4},{"s":"PCBM/HfAcac/Ag","v":310,"j":19.35},{"s":"PCBM/HfAcac/Ag","v":320,"j":19.45},{"s":"PCBM/HfAcac/Ag","v":330,"j":19.5},{"s":"PCBM/HfAcac/Ag","v":340,"j":19.45},{"s":"PCBM/HfAcac/Ag","v":350,"j":19.5},{"s":"PCBM/HfAcac/Ag","v":360,"j":19.45},{"s":"PCBM/HfAcac/Ag","v":370,"j":19.5},{"s":"PCBM/HfAcac/Ag","v":380,"j":19.45},{"s":"PCBM/HfAcac/Ag","v":390,"j":19.5},{"s":"PCBM/HfAcac/Ag","v":400,"j":19.45},{"s":"PCBM/HfAcac/Ag","v":410,"j":19.5},{"s":"PCBM/HfAcac/Ag","v":420,"j":19.45},{"s":"PCBM/HfAcac/Ag","v":430,"j":19.5},{"s":"PCBM/HfAcac/Ag","v":440,"j":19.45},{"s":"PCBM/HfAcac/Ag","v":450,"j":19.5},{"s":"PCBM/HfAcac/Ag","v":460,"j":19.45},{"s":"PCBM/HfAcac/Ag","v":470,"j":19.5},{"s":"PCBM/HfAcac/Ag","v":480,"j":19.45},{"s":"PCBM/HfAcac/Ag","v":490,"j":19.5},{"s":"PCBM/HfAcac/Ag","v":500,"j":19.45}
],
"tc":[
{"k":"title","v":0.271,"j":8.1,"t":"PCBM/TiAcac/Ag"},
{"k":"head","v":0.236,"j":5.3,"t":"OC-SC:"},{"k":"head","v":0.613,"j":5.3,"t":"SC-OC:"},
{"k":"key","v":0.236,"j":1.75,"t":"Jsc:"},{"k":"val","v":0.324,"j":1.75,"t":"22.11mA/cm²"},
{"k":"key","v":0.236,"j":-0.94,"t":"Voc:"},{"k":"val","v":0.343,"j":-0.94,"t":"1.072 V"},
{"k":"key","v":0.236,"j":-3.51,"t":"FF:"},{"k":"val","v":0.313,"j":-3.51,"t":"77.3 %"},
{"k":"key","v":0.236,"j":-6.08,"t":"PCE:"},{"k":"val","v":0.358,"j":-6.08,"t":"18.30 %"},
{"k":"key","v":0.613,"j":1.75,"t":"Jsc:"},{"k":"val","v":0.701,"j":1.75,"t":"22.14 mA/cm²"},
{"k":"key","v":0.613,"j":-0.94,"t":"Voc:"},{"k":"val","v":0.72,"j":-0.94,"t":"1.076 V"},
{"k":"key","v":0.613,"j":-3.51,"t":"FF:"},{"k":"val","v":0.69,"j":-3.51,"t":"77.6 %"},
{"k":"key","v":0.613,"j":-6.08,"t":"PCE:"},{"k":"val","v":0.735,"j":-6.08,"t":"18.36 %"}
],
"td":[
{"k":"title","v":-0.085,"j":11.25,"t":"PCBM/ZrAcac/Ag"},
{"k":"head","v":-0.114,"j":7.15,"t":"OC-SC:"},{"k":"head","v":0.448,"j":7.15,"t":"SC-OC:"},
{"k":"key","v":-0.114,"j":4.73,"t":"Jsc:"},{"k":"val","v":0.013,"j":4.73,"t":"22.17 mA/cm²"},
{"k":"key","v":-0.114,"j":2.5,"t":"Voc:"},{"k":"val","v":0.037,"j":2.5,"t":"1.079 V"},
{"k":"key","v":-0.114,"j":0.21,"t":"FF:"},{"k":"val","v":-0.006,"j":0.21,"t":"78.1 %"},
{"k":"key","v":-0.114,"j":-1.875,"t":"PCE:"},{"k":"val","v":0.06,"j":-1.875,"t":"18.69 %"},
{"k":"key","v":0.448,"j":4.73,"t":"Jsc:"},{"k":"val","v":0.575,"j":4.73,"t":"22.10 mA/cm²"},
{"k":"key","v":0.448,"j":2.5,"t":"Voc:"},{"k":"val","v":0.599,"j":2.5,"t":"1.078 V"},
{"k":"key","v":0.448,"j":0.21,"t":"FF:"},{"k":"val","v":0.556,"j":0.21,"t":"77.6 %"},
{"k":"key","v":0.448,"j":-1.875,"t":"PCE:"},{"k":"val","v":0.622,"j":-1.875,"t":"18.50 %"}
],
"te":[
{"k":"title","v":-0.128,"j":11.25,"t":"PCBM/HfAcac/Ag"},
{"k":"head","v":-0.126,"j":7.02,"t":"OC-SC:"},{"k":"head","v":0.42,"j":7.02,"t":"SC-OC:"},
{"k":"key","v":-0.126,"j":4.85,"t":"Jsc:"},{"k":"val","v":0.001,"j":4.85,"t":"22.05 mA/cm²"},
{"k":"key","v":-0.126,"j":2.5,"t":"Voc:"},{"k":"val","v":0.025,"j":2.5,"t":"1.078 V"},
{"k":"key","v":-0.126,"j":0.21,"t":"FF:"},{"k":"val","v":-0.018,"j":0.21,"t":"76.9 %"},
{"k":"key","v":-0.126,"j":-1.875,"t":"PCE:"},{"k":"val","v":0.048,"j":-1.875,"t":"18.3 %"},
{"k":"key","v":0.42,"j":4.85,"t":"Jsc:"},{"k":"val","v":0.547,"j":4.85,"t":"22.12 mA/cm²"},
{"k":"key","v":0.42,"j":2.5,"t":"Voc:"},{"k":"val","v":0.571,"j":2.5,"t":"1.079 V"},
{"k":"key","v":0.42,"j":0.21,"t":"FF:"},{"k":"val","v":0.528,"j":0.21,"t":"77.0 %"},
{"k":"key","v":0.42,"j":-1.875,"t":"PCE:"},{"k":"val","v":0.594,"j":-1.875,"t":"18.34 %"}
]
},
"columns":3,
"spacing":{"row":45,"column":45.5},
"bounds":"flush",
"resolve":{"scale":{"x":"independent","y":"independent","color":"independent"},"axis":{"x":"independent","y":"independent"},"legend":{"color":"independent"}},
"concat":[
{
"width":195,"height":143,
"title":{"text":"A","dx":-34,"dy":13.5},
"data":{"name":"pa"},
"encoding":{
"x":{"field":"v","type":"quantitative","scale":{"domain":[-0.2,1.2],"nice":false,"zero":false},"axis":{"title":"Voltage (V)","values":[-0.2,0,0.2,0.4,0.6,0.8,1,1.2],"format":".1f"}},
"y":{"field":"j","type":"quantitative","scale":{"domain":[-10,25],"nice":false,"zero":false},"axis":{"title":"Current intensity (mA/cm²)","values":[-10,-5,0,5,10,15,20,25],"titleY":79.5,"minExtent":20,"maxExtent":20,"titlePadding":5}},
"color":{"field":"s","type":"nominal","scale":{"domain":["PCBM/Ag","PCBM/TiAcac/Ag","PCBM/ZrAcac/Ag","PCBM/HfAcac/Ag"],"range":["#9a348e","#e9326e","#f39231","#6c3d9b"]},
"legend":{"title":null,"orient":"none","legendX":30.5,"legendY":66.75,"symbolType":"M-2.5,-0.125H2.5V0.125H-2.5Z M-0.625,0A0.625,0.625 0 1,1 0.625,0A0.625,0.625 0 1,1 -0.625,0Z","symbolSize":64,"labelFontSize":8.5,"labelOffset":9.5,"rowPadding":0,
"encode":{"symbols":{"update":{"fill":{"signal":"datum.value==='PCBM/Ag'?'#9a348e':datum.value==='PCBM/TiAcac/Ag'?'#e9326e':datum.value==='PCBM/ZrAcac/Ag'?'#f39231':'#6c3d9b'"},"stroke":{"value":"transparent"},"opacity":{"value":1}}}}}}
},
"layer":[
{"mark":{"type":"line","strokeWidth":1,"clip":true}},
{"mark":{"type":"point","shape":"circle","filled":true,"size":20,"opacity":1,"clip":true}}
]
},
{
"width":193,"height":143,
"title":{"text":"B","dx":-30,"dy":14.8},
"data":{"name":"pb"},
"encoding":{
"x":{"field":"v","type":"quantitative","scale":{"domain":[300,900],"nice":false,"zero":false},"axis":{"title":"Wavelength (nm)","values":[300,400,500,600,700,800,900],"format":"d"}},
"y":{"field":"j","type":"quantitative","scale":{"domain":[-1,100],"nice":false,"zero":false},"axis":{"title":"EQE (%)","values":[0,20,40,60,80,100],"format":"d","titleY":75,"minExtent":20,"maxExtent":20,"titlePadding":2}},
"color":{"field":"s","type":"nominal","scale":{"domain":["PCBM/Ag","PCBM/TiAcac/Ag","PCBM/ZrAcac/Ag","PCBM/HfAcac/Ag"],"range":["#9a348e","#e9326e","#f39231","#6c3d9b"]},
"legend":{"title":null,"orient":"none","legendX":56.5,"legendY":84.2,"symbolType":"M-2.4,-0.125H2.4V0.125H-2.4Z M-0.45,0A0.45,0.45 0 1,1 0.45,0A0.45,0.45 0 1,1 -0.45,0Z","symbolSize":64,"labelFontSize":7.5,"labelOffset":9.8,"rowPadding":0.2,
"encode":{"symbols":{"update":{"fill":{"signal":"datum.value==='PCBM/Ag'?'#9a348e':datum.value==='PCBM/TiAcac/Ag'?'#e9326e':datum.value==='PCBM/ZrAcac/Ag'?'#f39231':'#6c3d9b'"},"stroke":{"value":"transparent"},"opacity":{"value":1}}}}}}
},
"layer":[
{"mark":{"type":"line","strokeWidth":1,"clip":true}},
{"mark":{"type":"point","shape":"circle","filled":true,"size":10,"opacity":1,"clip":true}}
]
},
{
"width":196,"height":143,
"title":{"text":"C","dx":-26,"dy":14.5},
"encoding":{
"x":{"field":"v","type":"quantitative","scale":{"domain":[0.2,1.2],"nice":false,"zero":false},"axis":{"title":"Voltage (V)","values":[0.2,0.4,0.6,0.8,1,1.2],"format":".1f"}},
"y":{"field":"j","type":"quantitative","scale":{"domain":[-10,25],"nice":false,"zero":false},"axis":{"title":"Current density (mA/cm²)","values":[-10,-5,0,5,10,15,20,25],"titleY":77,"minExtent":18,"maxExtent":18,"titlePadding":1}}
},
"layer":[
{
"data":{"name":"pc"},
"encoding":{
"color":{"field":"s","type":"nominal","scale":{"domain":["OC-SC","SC-OC"],"range":["#f39231","#e9326e"]},
"legend":{"title":null,"orient":"none","legendX":85.7,"legendY":34,"symbolType":"M-2.5,-0.125H2.5V0.125H-2.5Z M-0.55,0A0.55,0.55 0 1,1 0.55,0A0.55,0.55 0 1,1 -0.55,0Z","symbolSize":64,"labelFontSize":8,"labelOffset":8,"rowPadding":0.3,
"encode":{"symbols":{"update":{"fill":{"signal":"datum.value==='OC-SC'?'#f39231':'#e9326e'"},"stroke":{"value":"transparent"},"opacity":{"value":1}}}}}}
},
"layer":[
{"mark":{"type":"line","strokeWidth":1,"clip":true}},
{"mark":{"type":"point","shape":"circle","filled":true,"size":16,"opacity":1,"clip":true}}
]
},
{
"data":{"name":"tc"},
"encoding":{"text":{"field":"t","type":"nominal"}},
"layer":[
{"transform":[{"filter":{"field":"k","equal":"title"}}],"mark":{"type":"text","align":"left","baseline":"middle","fontSize":10,"color":"black"}},
{"transform":[{"filter":{"field":"k","oneOf":["head","val"]}}],"mark":{"type":"text","align":"left","baseline":"middle","fontSize":9,"color":"black"}},
{"transform":[{"filter":{"field":"k","equal":"key"}}],"mark":{"type":"text","align":"left","baseline":"middle","fontSize":9,"fontStyle":"italic","color":"black"}}
]
}
]
},
{
"width":195,"height":144,
"title":{"text":"D","dx":-31,"dy":14.5},
"encoding":{
"x":{"field":"v","type":"quantitative","scale":{"domain":[-0.2,1.2],"nice":false,"zero":false},"axis":{"title":"Voltage (V)","values":[-0.2,0,0.2,0.4,0.6,0.8,1,1.2],"format":".1f","titlePadding":3}},
"y":{"field":"j","type":"quantitative","scale":{"domain":[-5,25],"nice":false,"zero":false},"axis":{"title":"Current density (mA/cm²)","values":[-5,0,5,10,15,20,25],"titleY":82,"minExtent":20,"maxExtent":20,"titlePadding":5}}
},
"layer":[
{
"data":{"name":"pd"},
"encoding":{
"color":{"field":"s","type":"nominal","scale":{"domain":["OC-SC","SC-OC"],"range":["#f39231","#e9326e"]},
"legend":{"title":null,"orient":"none","legendX":88.5,"legendY":32.5,"symbolType":"M-1.9,-0.125H1.9V0.125H-1.9Z M-0.6,0A0.6,0.6 0 1,1 0.6,0A0.6,0.6 0 1,1 -0.6,0Z","symbolSize":64,"labelFontSize":7.3,"labelOffset":6.2,"rowPadding":2,
"encode":{"symbols":{"update":{"fill":{"signal":"datum.value==='OC-SC'?'#f39231':'#e9326e'"},"stroke":{"value":"transparent"},"opacity":{"value":1}}}}}}
},
"layer":[
{"mark":{"type":"line","strokeWidth":1,"clip":true}},
{"mark":{"type":"point","shape":"circle","filled":true,"size":20,"opacity":1,"clip":true}}
]
},
{
"data":{"name":"td"},
"encoding":{"text":{"field":"t","type":"nominal"}},
"layer":[
{"transform":[{"filter":{"field":"k","equal":"title"}}],"mark":{"type":"text","align":"left","baseline":"middle","fontSize":10.8,"color":"black"}},
{"transform":[{"filter":{"field":"k","oneOf":["head","val"]}}],"mark":{"type":"text","align":"left","baseline":"middle","fontSize":8.8,"color":"black"}},
{"transform":[{"filter":{"field":"k","equal":"key"}}],"mark":{"type":"text","align":"left","baseline":"middle","fontSize":8.8,"fontStyle":"italic","color":"black"}}
]
}
]
},
{
"width":195,"height":144,
"title":{"text":"E","dx":-29,"dy":16.5},
"encoding":{
"x":{"field":"v","type":"quantitative","scale":{"domain":[-0.2,1.2],"nice":false,"zero":false},"axis":{"title":"Voltage (V)","values":[-0.2,0,0.2,0.4,0.6,0.8,1,1.2],"format":".1f","titlePadding":3}},
"y":{"field":"j","type":"quantitative","scale":{"domain":[-5,25],"nice":false,"zero":false},"axis":{"title":"Current density (mA/cm²)","values":[-5,0,5,10,15,20,25],"titleY":82,"minExtent":20,"maxExtent":20,"titlePadding":4}}
},
"layer":[
{
"data":{"name":"pe"},
"encoding":{
"color":{"field":"s","type":"nominal","scale":{"domain":["OC-SC","SC-OC"],"range":["#f39231","#e9326e"]},
"legend":{"title":null,"orient":"none","legendX":87.2,"legendY":29.5,"symbolType":"M-1.9,-0.125H1.9V0.125H-1.9Z M-0.5,0A0.5,0.5 0 1,1 0.5,0A0.5,0.5 0 1,1 -0.5,0Z","symbolSize":64,"labelFontSize":7.3,"labelOffset":5.8,"rowPadding":1.6,
"encode":{"symbols":{"update":{"fill":{"signal":"datum.value==='OC-SC'?'#f39231':'#e9326e'"},"stroke":{"value":"transparent"},"opacity":{"value":1}}}}}}
},
"layer":[
{"mark":{"type":"line","strokeWidth":1,"clip":true}},
{"mark":{"type":"point","shape":"circle","filled":true,"size":12,"opacity":1,"clip":true}}
]
},
{
"data":{"name":"te"},
"encoding":{"text":{"field":"t","type":"nominal"}},
"layer":[
{"transform":[{"filter":{"field":"k","equal":"title"}}],"mark":{"type":"text","align":"left","baseline":"middle","fontSize":10.8,"color":"black"}},
{"transform":[{"filter":{"field":"k","oneOf":["head","val"]}}],"mark":{"type":"text","align":"left","baseline":"middle","fontSize":8.8,"color":"black"}},
{"transform":[{"filter":{"field":"k","equal":"key"}}],"mark":{"type":"text","align":"left","baseline":"middle","fontSize":8.8,"fontStyle":"italic","color":"black"}}
]
}
]
},
{
"width":193,"height":144,
"title":{"text":"F","dx":-26,"dy":16.5},
"data":{"name":"pf"},
"encoding":{
"x":{"field":"v","type":"quantitative","scale":{"domain":[0,500],"nice":false,"zero":false},"axis":{"title":"Time (S)","values":[0,100,200,300,400,500],"format":"d","titlePadding":3}},
"y":{"field":"j","type":"quantitative","scale":{"domain":[0,25],"nice":false,"zero":false},"axis":{"title":"Current density (mA/cm²)","values":[0,5,10,15,20,25],"format":"d","titleY":82,"minExtent":18,"maxExtent":18,"titlePadding":3}},
"color":{"field":"s","type":"nominal","scale":{"domain":["PCBM/TiAcac/Ag","PCBM/ZrAcac/Ag","PCBM/HfAcac/Ag"],"range":["#f39231","#6b4c9a","#e9326e"]},
"legend":{"title":null,"orient":"none","legendX":58,"legendY":64.7,"symbolType":"M-2.5,-0.125H2.5V0.125H-2.5Z M-0.4,0A0.4,0.4 0 1,1 0.4,0A0.4,0.4 0 1,1 -0.4,0Z","symbolSize":64,"labelFontSize":8,"labelOffset":9.3,"rowPadding":2,
"encode":{"symbols":{"update":{"fill":{"signal":"datum.value==='PCBM/TiAcac/Ag'?'#f39231':datum.value==='PCBM/ZrAcac/Ag'?'#6b4c9a':'#e9326e'"},"stroke":{"value":"transparent"},"opacity":{"value":1}}}}}}
},
"layer":[
{"mark":{"type":"line","strokeWidth":1,"clip":true}},
{"mark":{"type":"point","shape":"circle","filled":true,"size":8,"opacity":1,"clip":true}}
]
}
]
}
